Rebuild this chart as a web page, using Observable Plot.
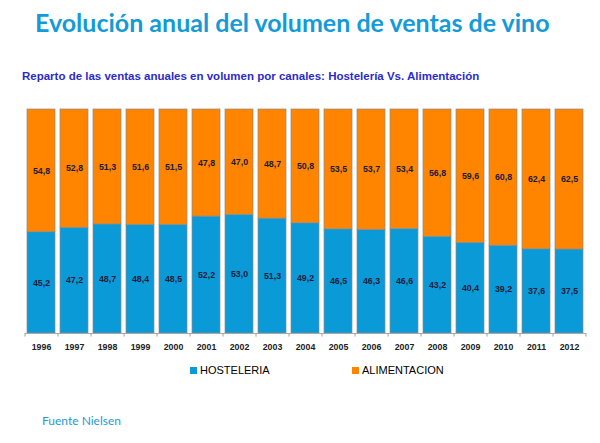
<!DOCTYPE html>
<html>
<head>
<meta charset="utf-8">
<script src="https://cdn.jsdelivr.net/npm/d3@7"></script>
<script src="https://cdn.jsdelivr.net/npm/@observablehq/plot@0.6"></script>
<style>
  html, body { margin: 0; padding: 0; background: #fff; }
  #root { position: relative; width: 600px; height: 443px; overflow: hidden; }
  .abs { position: absolute; white-space: nowrap; line-height: 1; }
  #title { left: 35px; top: 10px; font-family: Lato, sans-serif; font-weight: 700; font-size: 25px; color: #149bd7; }
  #subtitle { left: 22px; top: 71px; font-family: "Liberation Sans", Arial, sans-serif; font-weight: 700; font-size: 11.5px; color: #2b2bcc; }
  #chart { position: absolute; left: 0; top: 100px; }
  .leg { font-family: "Liberation Sans", Arial, sans-serif; font-size: 11px; color: #000; top: 365px; }
  .sw { position: absolute; width: 7px; height: 7px; top: 367px; }
  #caption { left: 42px; top: 415px; font-family: Lato, sans-serif; font-size: 12px; color: #1d9bd7; }
</style>
</head>
<body>
<div id="root">
  <div id="title" class="abs">Evolución anual del volumen de ventas de vino</div>
  <div id="subtitle" class="abs">Reparto de las ventas anuales en volumen por canales: Hostelería Vs. Alimentación</div>
  <div id="chart"></div>
  <div id="legend"></div>
  <div id="caption" class="abs">Fuente Nielsen</div>
</div>
<script>
const years = ["1996","1997","1998","1999","2000","2001","2002","2003","2004","2005","2006","2007","2008","2009","2010","2011","2012"];
const hosteleria = [45.2,47.2,48.7,48.4,48.5,52.2,53.0,51.3,49.2,46.5,46.3,46.6,43.2,40.4,39.2,37.6,37.5];
const alimentacion = [54.8,52.8,51.3,51.6,51.5,47.8,47.0,48.7,50.8,53.5,53.7,53.4,56.8,59.6,60.8,62.4,62.5];
const channels = ["HOSTELERIA","ALIMENTACION"];
const colors = ["#0b9ad8","#ff8500"];

const data = [];
years.forEach((y, i) => {
  data.push({year: y, channel: channels[0], value: hosteleria[i]});
  data.push({year: y, channel: channels[1], value: alimentacion[i]});
});
const fmt = v => v.toFixed(1).replace(".", ",");

const W = 600, ML = 25, MR = 14;
const step = (W - ML - MR) / years.length;

const chart = Plot.plot({
  width: W,
  height: 260,
  marginLeft: ML,
  marginRight: MR,
  marginTop: 9,
  marginBottom: 27,
  x: {domain: years, paddingInner: 0.15, paddingOuter: 0.075, label: null},
  y: {domain: [0, 100], axis: null},
  color: {domain: channels, range: colors},
  style: {fontFamily: "'Liberation Sans', Arial, sans-serif", background: "transparent"},
  marks: [
    Plot.barY(data, Plot.stackY({x: "year", y: "value", z: "channel", order: channels, fill: "channel", stroke: "#8a8a8a", strokeWidth: 0.7})),
    Plot.text(data, Plot.stackY({x: "year", y: "value", z: "channel", order: channels, text: d => fmt(d.value), fill: "#1b1b3a", fontWeight: "bold", fontSize: 8.8})),
    Plot.ruleY([0], {stroke: "#a8a8a8", strokeWidth: 1}),
    Plot.ruleX(years, {x: d => d, dx: -step / 2, y1: 0, y2: -1.6, stroke: "#a0a0a0", strokeWidth: 1}),
    Plot.ruleX([years[years.length - 1]], {x: d => d, dx: step / 2, y1: 0, y2: -1.6, stroke: "#a0a0a0", strokeWidth: 1}),
    Plot.axisX({tickSize: 0, tickPadding: 10, fontWeight: "bold", fontSize: 8.8, fill: "#222", label: null})
  ]
});
document.getElementById("chart").appendChild(chart);

const legend = document.getElementById("legend");
const legX = [[190, 200], [352, 362]];
channels.forEach((c, i) => {
  const sw = document.createElement("div");
  sw.className = "sw";
  sw.style.left = legX[i][0] + "px";
  sw.style.background = colors[i];
  legend.appendChild(sw);
  const t = document.createElement("div");
  t.className = "abs leg";
  t.style.left = legX[i][1] + "px";
  t.textContent = c;
  legend.appendChild(t);
});
</script>
</body>
</html>
